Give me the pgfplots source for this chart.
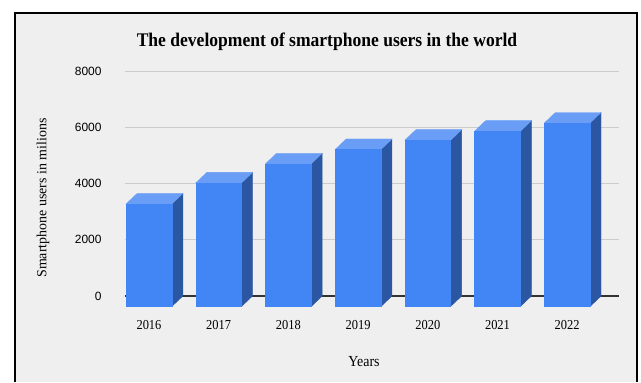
\documentclass[border=0pt]{standalone}
\usepackage{pgfplots}
\pgfplotsset{compat=1.18}
\usepackage{pgfplotstable}
\usepackage{graphicx}
\usepackage{fontspec}
\setmainfont{Liberation Serif}
\newfontfamily\sansf{Liberation Sans}
\definecolor{bg}{HTML}{EFEFEF}
\definecolor{barfront}{HTML}{4285F4}
\definecolor{barside}{HTML}{2A56A2}
\definecolor{bartop}{HTML}{6A9EF6}
\definecolor{gridc}{HTML}{CCCCCC}
\definecolor{zeroc}{HTML}{333333}
\newcommand{\vs}[1]{\scalebox{1}[1.1]{#1}}
\pgfplotstableread{
x v
0 3650
1 4400
2 5080
3 5590
4 5920
5 6240
6 6530
}\users
\begin{document}
\begin{tikzpicture}[x=1bp,y=1bp]
\useasboundingbox (0,0) rectangle (641,382);
\fill[white] (0,0) rectangle (641,382);
\fill[bg] (15,0) rectangle (637.3,369);
\draw[black, line width=2bp] (15,0) -- (15,369) -- (637.3,369) -- (637.3,0);
\begin{axis}[
  at={(124.5bp,86bp)}, anchor=south west,
  x=69.7bp, y=0.0281bp,
  xmin=-0.509, xmax=6.585, ymin=0, ymax=8000,
  clip=false,
  axis line style={draw=none},
  major tick length=0pt,
  xtick={0,1,2,3,4,5,6},
  xticklabels={\vs{2016},\vs{2017},\vs{2018},\vs{2019},\vs{2020},\vs{2021},\vs{2022}},
  ytick={2000,4000,6000,8000},
  yticklabels={2000,4000,6000,8000},
  extra y ticks={0},
  extra y tick labels={0},
  extra y tick style={ymajorgrids=true, major grid style={zeroc, line width=1.2bp}},
  ymajorgrids,
  major grid style={gridc, line width=1bp},
  yticklabel style={font=\sansf\fontsize{12}{14}\selectfont, anchor=east, inner sep=0pt, xshift=-22.8bp},
  xticklabel style={font=\fontsize{12.5}{14}\selectfont, anchor=north, inner sep=0pt, xshift=-11bp, yshift=-24bp},
]
\addplot[scatter, only marks, mark=*, mark size=0pt, mark options={draw=none,fill=none},
  visualization depends on={rawy \as \val},
  scatter/@pre marker code/.code={%
    \pgfmathsetlengthmacro\hb{\val*0.0281bp}%
    \pgfmathsetlengthmacro\hf{\val*0.0281bp+10.5bp}%
    \fill[barside] (11.85bp,-10.5bp) -- (22.85bp,0bp) -- (22.85bp,-\hb) -- (11.85bp,-\hf) -- cycle;
    \fill[bartop] (-33.85bp,-10.5bp) -- (-22.85bp,0bp) -- (22.85bp,0bp) -- (11.85bp,-10.5bp) -- cycle;
    \fill[barfront] (-33.85bp,-10.5bp) rectangle (11.85bp,-\hf);
  },
  scatter/@post marker code/.code={}
] table[x=x, y=v] {\users};
\end{axis}
\node[font=\bfseries\fontsize{17.6}{20}\selectfont] at (327,340) {\vs{The development of smartphone users in the world}};
\node[rotate=90, font=\fontsize{14}{16}\selectfont] at (43,184) {Smartphone users in milions};
\node[font=\fontsize{14}{16}\selectfont] at (364,20) {\vs{Years}};
\end{tikzpicture}
\end{document}
